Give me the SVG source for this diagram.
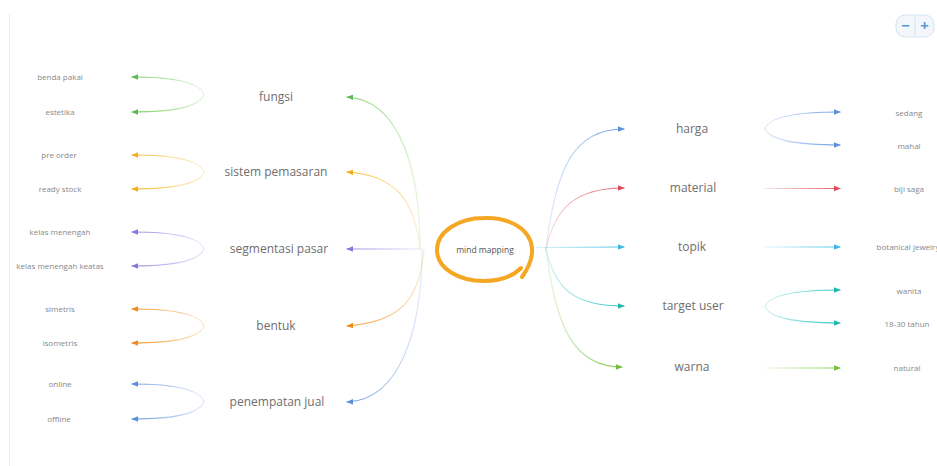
<svg xmlns="http://www.w3.org/2000/svg" width="937" height="466" viewBox="0 0 937 466">
<style>
  text { font-family: "Open Sans", "Liberation Sans", sans-serif; text-anchor: middle; }
  .l1 { font-size: 12px; fill: #6e6e6e; }
  .leaf { font-size: 8px; fill: #888; }
  .root { font-size: 8.5px; fill: #555; }
  .c { fill: none; stroke-width: 1.2; stroke-linecap: round; }
</style>
<defs>
  <linearGradient id="gL-green" x1="1" y1="0" x2="0" y2="0"><stop offset="0" stop-color="#7ccf5e" stop-opacity="0.2"/><stop offset="1" stop-color="#7ccf5e"/></linearGradient>
  <linearGradient id="gL-yellow" x1="1" y1="0" x2="0" y2="0"><stop offset="0" stop-color="#f6bd2a" stop-opacity="0.2"/><stop offset="1" stop-color="#f6bd2a"/></linearGradient>
  <linearGradient id="gL-purple" x1="1" y1="0" x2="0" y2="0"><stop offset="0" stop-color="#9c8ae6" stop-opacity="0.2"/><stop offset="1" stop-color="#9c8ae6"/></linearGradient>
  <linearGradient id="gL-orange" x1="1" y1="0" x2="0" y2="0"><stop offset="0" stop-color="#f5962a" stop-opacity="0.2"/><stop offset="1" stop-color="#f5962a"/></linearGradient>
  <linearGradient id="gL-blue" x1="1" y1="0" x2="0" y2="0"><stop offset="0" stop-color="#6f9ee0" stop-opacity="0.2"/><stop offset="1" stop-color="#6f9ee0"/></linearGradient>
  <linearGradient id="gR-blue" x1="0" y1="0" x2="1" y2="0"><stop offset="0" stop-color="#6f9ee8" stop-opacity="0.2"/><stop offset="1" stop-color="#6f9ee8"/></linearGradient>
  <linearGradient id="gR-red" x1="0" y1="0" x2="1" y2="0"><stop offset="0" stop-color="#e35d6a" stop-opacity="0.2"/><stop offset="1" stop-color="#e35d6a"/></linearGradient>
  <linearGradient id="gR-teal" x1="0" y1="0" x2="1" y2="0"><stop offset="0" stop-color="#2cc5c0" stop-opacity="0.2"/><stop offset="1" stop-color="#2cc5c0"/></linearGradient>
  <linearGradient id="gR-green" x1="0" y1="0" x2="1" y2="0"><stop offset="0" stop-color="#86cc52" stop-opacity="0.2"/><stop offset="1" stop-color="#86cc52"/></linearGradient>
  <linearGradient id="gS-purple" gradientUnits="userSpaceOnUse" x1="420" y1="0" x2="347" y2="0"><stop offset="0" stop-color="#9c8ae6" stop-opacity="0.2"/><stop offset="1" stop-color="#9c8ae6"/></linearGradient>
  <linearGradient id="gS-cyan1" gradientUnits="userSpaceOnUse" x1="536" y1="0" x2="624" y2="0"><stop offset="0" stop-color="#4fc3e8" stop-opacity="0.2"/><stop offset="1" stop-color="#4fc3e8"/></linearGradient>
  <linearGradient id="gS-red2" gradientUnits="userSpaceOnUse" x1="765" y1="0" x2="840" y2="0"><stop offset="0" stop-color="#e35d6a" stop-opacity="0.15"/><stop offset="1" stop-color="#e35d6a"/></linearGradient>
  <linearGradient id="gS-cyan2" gradientUnits="userSpaceOnUse" x1="765" y1="0" x2="840" y2="0"><stop offset="0" stop-color="#4fc3e8" stop-opacity="0.15"/><stop offset="1" stop-color="#4fc3e8"/></linearGradient>
  <linearGradient id="gS-green2" gradientUnits="userSpaceOnUse" x1="765" y1="0" x2="840" y2="0"><stop offset="0" stop-color="#86cc52" stop-opacity="0.15"/><stop offset="1" stop-color="#86cc52"/></linearGradient>
  <marker id="m-green" viewBox="0 0 10 10" refX="9" refY="5" markerWidth="7" markerHeight="7" markerUnits="userSpaceOnUse" orient="auto"><path d="M0,1 L10,5 L0,9 z" fill="#5cb85c"/></marker>
  <marker id="m-yellow" viewBox="0 0 10 10" refX="9" refY="5" markerWidth="7" markerHeight="7" markerUnits="userSpaceOnUse" orient="auto"><path d="M0,1 L10,5 L0,9 z" fill="#f0b01c"/></marker>
  <marker id="m-purple" viewBox="0 0 10 10" refX="9" refY="5" markerWidth="7" markerHeight="7" markerUnits="userSpaceOnUse" orient="auto"><path d="M0,1 L10,5 L0,9 z" fill="#8a76de"/></marker>
  <marker id="m-orange" viewBox="0 0 10 10" refX="9" refY="5" markerWidth="7" markerHeight="7" markerUnits="userSpaceOnUse" orient="auto"><path d="M0,1 L10,5 L0,9 z" fill="#f08a1c"/></marker>
  <marker id="m-blue" viewBox="0 0 10 10" refX="9" refY="5" markerWidth="7" markerHeight="7" markerUnits="userSpaceOnUse" orient="auto"><path d="M0,1 L10,5 L0,9 z" fill="#5b8fd9"/></marker>
  <marker id="m-red" viewBox="0 0 10 10" refX="9" refY="5" markerWidth="7" markerHeight="7" markerUnits="userSpaceOnUse" orient="auto"><path d="M0,1 L10,5 L0,9 z" fill="#dc4b5a"/></marker>
  <marker id="m-cyan" viewBox="0 0 10 10" refX="9" refY="5" markerWidth="7" markerHeight="7" markerUnits="userSpaceOnUse" orient="auto"><path d="M0,1 L10,5 L0,9 z" fill="#3fb6e0"/></marker>
  <marker id="m-teal" viewBox="0 0 10 10" refX="9" refY="5" markerWidth="7" markerHeight="7" markerUnits="userSpaceOnUse" orient="auto"><path d="M0,1 L10,5 L0,9 z" fill="#1fb5b0"/></marker>
  <marker id="m-lgreen" viewBox="0 0 10 10" refX="9" refY="5" markerWidth="7" markerHeight="7" markerUnits="userSpaceOnUse" orient="auto"><path d="M0,1 L10,5 L0,9 z" fill="#72bf3e"/></marker>
</defs>
<rect width="937" height="466" fill="#ffffff"/>
<line x1="9.5" y1="14" x2="9.5" y2="466" stroke="#ececec" stroke-width="1"/>
<g id="zoom-control">
  <rect x="896" y="15" width="38" height="22" rx="9" fill="#f3f7fb" stroke="#d3e2f0"/>
  <line x1="915" y1="17" x2="915" y2="35" stroke="#d3e2f0"/>
  <text x="905.5" y="31" style="font-size:15px;fill:#5b9bd5;font-weight:bold;">−</text>
  <text x="924.5" y="31" style="font-size:15px;fill:#5b9bd5;font-weight:bold;">+</text>
</g>
<g id="connectors">
  <path class="c" stroke="url(#gL-green)" marker-end="url(#m-green)" d="M420,249 C420,170 400,100 347,97"/>
  <path class="c" stroke="url(#gL-yellow)" marker-end="url(#m-yellow)" d="M420,249 C415,200 395,175 347,172"/>
  <path class="c" stroke="url(#gS-purple)" marker-end="url(#m-purple)" d="M420,249 L347,249"/>
  <path class="c" stroke="url(#gL-orange)" marker-end="url(#m-orange)" d="M424,249 C420,300 400,322 347,326"/>
  <path class="c" stroke="url(#gL-blue)" marker-end="url(#m-blue)" d="M422,249 C422,330 400,400 347,402"/>

  <path class="c" stroke="url(#gL-green)" marker-end="url(#m-green)" d="M204,94.5 C200,83 178,77 132,77"/>
  <path class="c" stroke="url(#gL-green)" marker-end="url(#m-green)" d="M204,94.5 C200,106 178,112 132,112"/>
  <path class="c" stroke="url(#gL-yellow)" marker-end="url(#m-yellow)" d="M204,172 C200,161 178,155 132,155"/>
  <path class="c" stroke="url(#gL-yellow)" marker-end="url(#m-yellow)" d="M204,172 C200,183 178,189 132,189"/>
  <path class="c" stroke="url(#gL-purple)" marker-end="url(#m-purple)" d="M204,249 C200,238 178,232 132,232"/>
  <path class="c" stroke="url(#gL-purple)" marker-end="url(#m-purple)" d="M204,249 C200,260 178,266 132,266"/>
  <path class="c" stroke="url(#gL-orange)" marker-end="url(#m-orange)" d="M204,326 C200,315 178,309 132,309"/>
  <path class="c" stroke="url(#gL-orange)" marker-end="url(#m-orange)" d="M204,326 C200,337 178,343 132,343"/>
  <path class="c" stroke="url(#gL-blue)" marker-end="url(#m-blue)" d="M204,401.5 C200,390 178,384 132,384"/>
  <path class="c" stroke="url(#gL-blue)" marker-end="url(#m-blue)" d="M204,401.5 C200,413 178,419 132,419"/>

  <path class="c" stroke="url(#gR-blue)" marker-end="url(#m-blue)" d="M546,249 C556,165 575,129 624,129"/>
  <path class="c" stroke="url(#gR-red)" marker-end="url(#m-red)" d="M546,249 C555,208 575,188 624,188"/>
  <path class="c" stroke="url(#gS-cyan1)" marker-end="url(#m-cyan)" d="M536,247.5 L624,247"/>
  <path class="c" stroke="url(#gR-teal)" marker-end="url(#m-teal)" d="M546,249 C555,290 575,306 624,306"/>
  <path class="c" stroke="url(#gR-green)" marker-end="url(#m-lgreen)" d="M546,249 C556,330 575,367 622,367"/>

  <path class="c" stroke="url(#gR-blue)" marker-end="url(#m-blue)" d="M765,128.5 C769,118 792,112 840,112"/>
  <path class="c" stroke="url(#gR-blue)" marker-end="url(#m-blue)" d="M765,128.5 C769,139 792,145 840,145"/>
  <path class="c" stroke="url(#gS-red2)" marker-end="url(#m-red)" d="M765,188.5 L840,188.5"/>
  <path class="c" stroke="url(#gS-cyan2)" marker-end="url(#m-cyan)" d="M765,247 L840,247"/>
  <path class="c" stroke="url(#gR-teal)" marker-end="url(#m-teal)" d="M765,306.5 C769,296 792,290 840,290"/>
  <path class="c" stroke="url(#gR-teal)" marker-end="url(#m-teal)" d="M765,306.5 C769,317 792,323 840,323"/>
  <path class="c" stroke="url(#gS-green2)" marker-end="url(#m-lgreen)" d="M765,368 L840,368"/>
</g>
<g id="root">
  <path d="M522,277 C527,270 533,260 532,248 C530,228 508,217 484,218 C458,218 437,232 437,250 C437,268 458,281 484,281 C500,281 513,276 521,268" fill="none" stroke="#f5a623" stroke-width="4" stroke-linecap="round"/>
  <text class="root" x="485" y="250" dy="0.35em">mind mapping</text>
</g>
<g id="fungsi"><text class="l1" x="276" y="97" dy="0.35em">fungsi</text></g>
<g id="sistem-pemasaran"><text class="l1" x="276" y="172" dy="0.35em">sistem pemasaran</text></g>
<g id="segmentasi-pasar"><text class="l1" x="279" y="249" dy="0.35em">segmentasi pasar</text></g>
<g id="bentuk"><text class="l1" x="276" y="326" dy="0.35em">bentuk</text></g>
<g id="penempatan-jual"><text class="l1" x="277" y="402" dy="0.35em">penempatan jual</text></g>

<g id="benda-pakai"><text class="leaf" x="60" y="77" dy="0.35em">benda pakai</text></g>
<g id="estetika"><text class="leaf" x="60" y="112" dy="0.35em">estetika</text></g>
<g id="pre-order"><text class="leaf" x="59" y="155" dy="0.35em">pre order</text></g>
<g id="ready-stock"><text class="leaf" x="60" y="189" dy="0.35em">ready stock</text></g>
<g id="kelas-menengah"><text class="leaf" x="60" y="232" dy="0.35em">kelas menengah</text></g>
<g id="kelas-menengah-keatas"><text class="leaf" x="60" y="266" dy="0.35em">kelas menengah keatas</text></g>
<g id="simetris"><text class="leaf" x="60" y="309" dy="0.35em">simetris</text></g>
<g id="isometris"><text class="leaf" x="60" y="343" dy="0.35em">isometris</text></g>
<g id="online"><text class="leaf" x="60" y="384" dy="0.35em">online</text></g>
<g id="offline"><text class="leaf" x="59" y="419" dy="0.35em">offline</text></g>

<g id="harga"><text class="l1" x="692" y="129" dy="0.35em">harga</text></g>
<g id="material"><text class="l1" x="693" y="188" dy="0.35em">material</text></g>
<g id="topik"><text class="l1" x="692" y="247" dy="0.35em">topik</text></g>
<g id="target-user"><text class="l1" x="693" y="306" dy="0.35em">target user</text></g>
<g id="warna"><text class="l1" x="692" y="367" dy="0.35em">warna</text></g>

<g id="sedang"><text class="leaf" x="909" y="113" dy="0.35em">sedang</text></g>
<g id="mahal"><text class="leaf" x="909" y="146" dy="0.35em">mahal</text></g>
<g id="biji-saga"><text class="leaf" x="909" y="189" dy="0.35em">biji saga</text></g>
<g id="botanical-jewelry"><text class="leaf" x="908" y="247" dy="0.35em">botanical jewelry</text></g>
<g id="wanita"><text class="leaf" x="909" y="291" dy="0.35em">wanita</text></g>
<g id="usia"><text class="leaf" x="907" y="324" dy="0.35em">18-30 tahun</text></g>
<g id="natural"><text class="leaf" x="907" y="368" dy="0.35em">natural</text></g>
</svg>
